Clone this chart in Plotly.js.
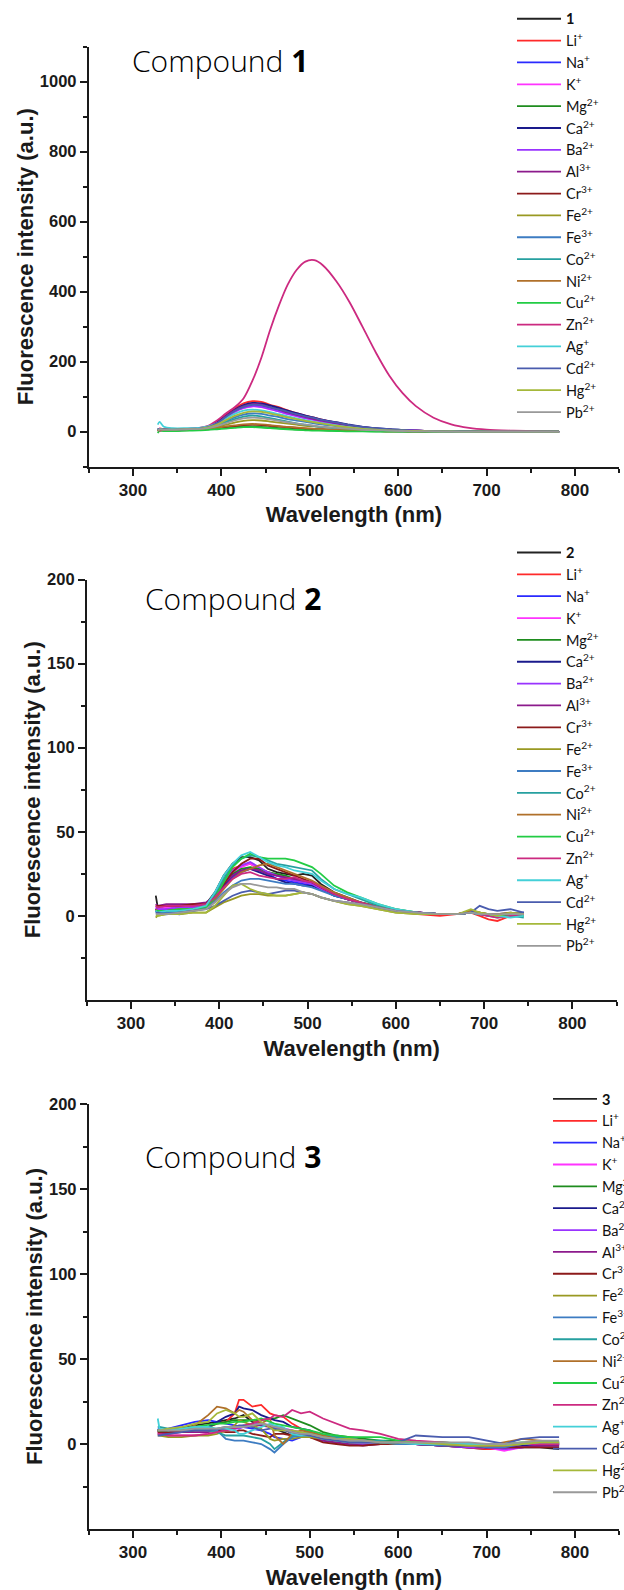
<!DOCTYPE html>
<html><head><meta charset="utf-8">
<script src="https://cdn.plot.ly/plotly-3.0.1.min.js"></script>
<style>html,body{margin:0;padding:0;background:#fff}#chart{width:624px;height:1590px}</style>
</head><body><div id="chart"></div>
<script>
// ---- labels & colours ----
const ionLabels = ['Li<sup>+</sup>','Na<sup>+</sup>','K<sup>+</sup>','Mg<sup>2+</sup>','Ca<sup>2+</sup>','Ba<sup>2+</sup>','Al<sup>3+</sup>','Cr<sup>3+</sup>','Fe<sup>2+</sup>','Fe<sup>3+</sup>','Co<sup>2+</sup>','Ni<sup>2+</sup>','Cu<sup>2+</sup>','Zn<sup>2+</sup>','Ag<sup>+</sup>','Cd<sup>2+</sup>','Hg<sup>2+</sup>','Pb<sup>2+</sup>'];
const lineColors = ['#222222','#ff2a2a','#2a2aff','#ff33ff','#1e8c1e','#1a1a8c','#9933ff','#8c1a8c','#8c1a1a','#999922','#3d7cc2','#26a0a0','#b0702a','#22cc44','#cc2a80','#44d0d8','#4a5cae','#a5b83a','#999999'];
const compoundNames = ['1','2','3'];

// ---- Compound 1 (wavelength, nm) ----
const wl1 = [328,330,335,345,360,375,385,395,405,415,425,435,445,455,465,475,485,495,505,515,530,545,560,575,590,605,620,640,660,680,700,730,760,782];
const c1_free = [6,8,7,7,8,9,14,26,45,62,74,80,78,71,64,56,49,42,37,31,24,18,12,8,6,4,3,2,1,1,0,0,0,0];
const c1_Li = [4,9,7,7,8,10,15,28,48,67,81,87,85,77,70,61,53,46,40,34,26,19,13,9,6,4,3,2,1,1,0,0,0,0];
const c1_Na = [5,8,7,7,8,9,13,24,42,59,71,76,74,68,61,53,46,40,35,30,23,17,11,8,5,4,3,2,1,1,0,0,0,0];
const c1_K = [3,9,6,6,7,9,13,23,40,56,67,72,70,64,58,50,44,38,33,28,22,16,11,7,5,4,3,1,1,0,0,0,0,0];
const c1_Mg = [1,4,3,3,4,5,7,9,11,13,15,15,14,12,10,9,7,6,5,4,3,2,2,1,1,1,0,0,0,0,0,0,0,0];
const c1_Ca = [6,8,7,7,8,10,14,26,45,63,76,82,81,75,68,60,53,46,40,34,27,20,14,10,7,5,3,2,1,1,0,0,0,0];
const c1_Ba = [5,7,7,7,7,9,13,23,40,57,68,73,71,65,58,51,45,39,34,28,22,16,11,7,5,4,3,1,1,0,0,0,0,0];
const c1_Al = [4,8,7,7,8,9,14,25,44,61,73,79,77,70,63,55,48,42,36,31,24,17,12,8,6,4,3,2,1,1,0,0,0,0];
const c1_Cr = [2,5,4,4,5,6,8,10,13,16,19,20,19,17,15,13,11,9,8,7,5,4,3,2,1,1,1,0,0,0,0,0,0,0];
const c1_Fe2 = [3,6,5,5,6,7,9,14,20,26,31,33,32,29,26,23,20,17,15,13,10,7,5,4,3,2,1,1,0,0,0,0,0,0];
const c1_Fe3 = [4,7,6,6,7,8,11,18,30,41,49,52,51,46,42,36,32,28,24,20,16,11,8,5,4,3,2,1,1,0,0,0,0,0];
const c1_Co = [4,7,6,6,7,8,11,17,27,36,43,46,44,39,34,29,24,20,16,13,9,6,4,3,2,1,1,0,0,0,0,0,0,0];
const c1_Ni = [2,5,4,4,5,6,8,11,15,18,21,22,21,19,16,14,12,10,8,7,5,4,3,2,1,1,0,0,0,0,0,0,0,0];
const c1_Cu = [-4,2,2,2,3,4,5,7,9,11,13,13,12,10,8,7,5,4,3,3,2,1,1,0,0,0,0,0,0,0,0,0,0,0];
const c1_Zn = [5,3,6,7,8,11,17,32,52,70,95,145,210,290,360,420,462,486,490,475,430,370,298,225,160,110,73,40,21,11,6,3,1,0];
const c1_Ag = [20,28,14,10,10,11,15,24,38,51,60,63,61,56,50,44,38,33,28,24,18,13,9,6,4,3,2,1,1,0,0,0,0,0];
const c1_Cd = [5,7,6,6,7,9,13,24,42,59,71,77,76,70,64,57,50,44,39,33,26,19,14,10,7,5,3,2,1,1,0,0,0,0];
const c1_Hg = [3,6,6,6,7,8,12,20,33,45,54,58,57,52,47,41,36,31,27,23,17,12,8,6,4,3,2,1,1,0,0,0,0,0];
const c1_Pb = [4,7,6,6,7,8,10,16,24,32,38,40,39,35,31,27,23,20,17,14,11,8,5,4,3,2,1,1,0,0,0,0,0,0];

// ---- Compound 2 ----
const wl2 = [328,330,340,355,370,385,395,405,415,425,435,445,455,465,475,485,495,505,515,530,545,560,580,600,625,650,670,685,695,705,715,730,745];
const c2_free = [12,6,5,6,5,7,14,24,31,35,35,33,28,26,25,24,25,24,19,14,11,8,5,3,2,1,1,2,1,1,0,1,1];
const c2_Li = [4,3,4,3,4,6,12,21,28,30,31,28,26,24,23,21,20,19,17,13,10,8,5,3,1,0,1,2,0,-2,-3,0,1];
const c2_Na = [3,2,2,1,3,5,10,17,23,26,28,27,25,22,21,20,19,18,16,12,10,8,5,3,2,1,1,2,1,1,0,1,2];
const c2_K = [5,4,5,6,5,6,11,19,26,29,31,28,26,24,23,22,21,20,17,13,10,8,5,3,2,1,1,2,1,0,0,1,1];
const c2_Mg = [4,3,3,4,4,6,11,19,25,28,29,28,26,25,24,22,21,20,17,13,10,8,6,3,2,1,1,3,2,1,1,1,0];
const c2_Ca = [4,3,3,4,4,6,11,18,24,27,28,26,24,22,20,19,18,18,16,12,10,8,5,3,2,1,1,2,1,1,0,1,2];
const c2_Ba = [5,4,4,5,5,6,12,20,27,30,32,29,26,24,22,21,20,19,16,13,10,8,5,3,2,1,1,2,1,0,0,1,1];
const c2_Al = [7,6,7,7,7,8,12,19,24,27,28,27,25,24,23,22,21,20,17,13,10,8,5,3,2,1,1,2,1,1,0,1,1];
const c2_Cr = [6,6,6,6,7,7,12,19,26,31,34,34,30,28,26,24,22,20,17,13,10,8,5,3,2,1,1,2,1,1,0,1,1];
const c2_Fe2 = [-1,0,1,1,2,2,5,8,10,12,13,13,12,12,12,13,14,13,11,9,7,6,4,2,1,1,1,3,2,1,0,1,0];
const c2_Fe3 = [2,2,2,3,3,5,9,14,18,21,22,22,21,20,19,19,18,17,15,12,10,8,5,3,2,1,1,2,1,1,1,2,1];
const c2_Co = [3,2,3,3,4,6,13,22,30,34,36,35,33,31,30,29,28,27,22,16,13,10,6,4,2,1,1,2,1,0,-1,0,-1];
const c2_Ni = [4,3,3,4,4,6,10,16,22,26,28,30,31,29,27,25,23,21,18,14,11,8,5,3,2,1,1,3,2,1,1,2,1];
const c2_Cu = [3,3,3,4,4,5,11,20,29,34,37,35,34,34,34,33,31,29,25,18,14,11,7,4,2,1,1,2,1,1,0,0,0];
const c2_Zn = [6,5,6,6,6,7,11,17,22,25,26,24,23,22,22,23,21,20,17,13,10,8,5,3,2,1,1,2,1,0,-1,0,1];
const c2_Ag = [3,2,3,3,4,6,14,24,31,36,38,35,32,30,29,27,26,25,21,16,13,11,7,4,2,1,1,2,1,1,0,-1,0];
const c2_Cd = [2,2,1,2,3,4,6,9,12,14,15,14,13,14,15,15,14,13,11,9,8,7,5,3,2,1,1,2,6,4,3,4,2];
const c2_Hg = [0,0,1,1,2,2,6,12,18,19,16,14,13,12,12,13,14,13,11,9,7,6,4,2,1,1,1,4,2,1,0,2,1];
const c2_Pb = [1,1,1,2,3,4,8,13,17,19,19,18,17,17,16,16,14,13,11,9,8,7,5,3,2,1,1,2,1,1,1,1,1];

// ---- Compound 3 ----
const wl3 = [328,330,340,355,370,385,395,405,415,420,425,435,445,455,460,470,480,490,500,515,530,545,560,580,600,620,650,680,700,720,740,760,782];
const c3_free = [8,7,8,9,11,12,13,14,15,16,17,13,12,10,9,7,5,6,6,3,2,1,1,0,0,0,-1,-2,-3,-3,-2,-2,-3];
const c3_Li = [7,7,6,8,9,10,12,13,18,26,26,22,23,18,17,16,12,9,6,4,3,1,0,0,0,0,-1,-2,-3,-3,-1,0,0];
const c3_Na = [9,8,9,11,13,14,13,12,11,10,10,9,8,6,4,3,2,4,5,2,1,0,0,0,0,0,-1,-1,-2,-2,-1,0,0];
const c3_K = [6,6,5,5,5,6,7,8,9,10,10,11,12,11,10,9,8,6,5,3,2,1,1,0,0,0,-1,-2,-2,-4,-2,-1,0];
const c3_Mg = [8,8,8,9,10,10,12,13,14,14,14,14,14,15,15,17,15,13,11,7,5,4,3,2,2,1,1,0,-1,-1,0,0,0];
const c3_Ca = [8,8,8,9,10,10,13,16,18,22,21,20,17,15,14,13,10,9,8,4,2,1,1,0,0,0,-1,-2,-2,-2,-1,-1,-1];
const c3_Ba = [7,7,7,8,8,8,8,9,9,9,10,11,12,11,10,9,8,7,6,3,1,0,0,0,0,0,-1,-2,-2,-3,-2,-1,-1];
const c3_Al = [6,6,6,7,7,7,8,9,10,10,10,11,11,10,10,9,6,5,4,2,1,0,-1,0,0,0,-1,-1,-2,-2,-2,-1,-1];
const c3_Cr = [7,7,7,7,8,8,8,7,7,8,8,6,5,4,6,6,5,5,4,1,0,-1,-1,0,0,0,-1,-1,-2,-2,-2,-2,-2];
const c3_Fe2 = [5,5,4,4,5,5,6,8,11,14,13,11,9,3,2,3,3,4,4,3,2,1,1,1,0,0,0,-1,-1,-1,0,0,1];
const c3_Fe3 = [8,8,8,8,8,8,8,3,2,2,2,1,0,-3,-5,0,4,5,6,5,4,3,2,1,0,0,-1,-1,-2,-2,0,1,1];
const c3_Co = [10,10,9,9,9,8,7,5,5,5,5,4,3,0,-3,1,5,6,7,5,4,3,2,2,1,1,0,0,0,-1,0,0,0];
const c3_Ni = [8,8,8,8,11,17,22,21,18,20,19,14,12,15,5,0,6,8,7,5,3,2,2,1,1,1,0,-1,-1,1,3,2,1];
const c3_Cu = [8,8,8,9,10,11,12,12,13,13,13,14,15,13,12,11,10,9,8,6,5,4,4,4,2,1,1,0,0,0,1,1,1];
const c3_Zn = [6,6,5,5,5,6,7,8,9,10,11,12,14,15,17,16,20,18,19,15,12,9,8,6,3,2,1,0,-1,-1,0,0,0];
const c3_Ag = [15,9,8,9,10,10,9,9,8,6,6,8,10,12,11,10,6,5,5,3,2,1,1,1,1,0,0,0,0,0,0,1,1];
const c3_Cd = [5,5,6,7,8,8,9,10,10,11,11,10,8,9,9,8,7,6,5,3,2,1,1,1,1,5,4,4,2,0,3,4,4];
const c3_Hg = [8,8,9,10,12,13,18,20,18,16,16,18,13,10,8,8,8,7,6,4,3,3,2,1,1,1,0,-1,-1,-1,0,1,1];
const c3_Pb = [8,8,8,8,9,9,9,10,10,10,10,11,12,11,10,9,7,6,6,4,3,2,2,1,1,1,1,1,0,0,1,2,2];

const series1 = [c1_free,c1_Li,c1_Na,c1_K,c1_Mg,c1_Ca,c1_Ba,c1_Al,c1_Cr,c1_Fe2,c1_Fe3,c1_Co,c1_Ni,c1_Cu,c1_Zn,c1_Ag,c1_Cd,c1_Hg,c1_Pb];
const series2 = [c2_free,c2_Li,c2_Na,c2_K,c2_Mg,c2_Ca,c2_Ba,c2_Al,c2_Cr,c2_Fe2,c2_Fe3,c2_Co,c2_Ni,c2_Cu,c2_Zn,c2_Ag,c2_Cd,c2_Hg,c2_Pb];
const series3 = [c3_free,c3_Li,c3_Na,c3_K,c3_Mg,c3_Ca,c3_Ba,c3_Al,c3_Cr,c3_Fe2,c3_Fe3,c3_Co,c3_Ni,c3_Cu,c3_Zn,c3_Ag,c3_Cd,c3_Hg,c3_Pb];

const W = 624, H = 1590;
const panels = [
  {wl: wl1, ser: series1, shape: 'spline', xdom:[88.8,619.2], ydom:[46.7,466.7], yr:[-100,1100], ytv:[0,200,400,600,800,1000], ymin:[-100,100,300,500,700,900,1100], leg:[512,2.8], ann:[130,61]},
  {wl: wl2, ser: series2, shape: 'linear', xdom:[86.9,616.5], ydom:[579.5,1000], yr:[-50,200], ytv:[0,50,100,150,200], ymin:[-25,25,75,125,175], leg:[512,536.6], ann:[143,598]},
  {wl: wl3, ser: series3, shape: 'linear', xdom:[88.8,619.2], ydom:[1104,1529], yr:[-50,200], ytv:[0,50,100,150,200], ymin:[-25,25,75,125,175], leg:[548,1083], ann:[143,1156]}
];

const AX = '#1a1a1a';
const traces = [];
const layout = {
  width: W, height: H,
  margin: {l:0, r:0, t:0, b:0, autoexpand:false},
  paper_bgcolor: '#ffffff', plot_bgcolor: 'rgba(0,0,0,0)',
  showlegend: true, annotations: []
};

panels.forEach((p, i) => {
  const n = i + 1;
  const sfx = n === 1 ? '' : String(n);
  const labels = ['<b>' + compoundNames[i] + '</b>'].concat(ionLabels);
  p.ser.forEach((ys, j) => {
    traces.push({
      type: 'scatter', mode: 'lines', x: p.wl, y: ys,
      xaxis: 'x' + sfx, yaxis: 'y' + sfx,
      name: labels[j], legend: 'legend' + sfx,
      line: {color: lineColors[j], width: 1.8, shape: p.shape, smoothing: 0.8}
    });
  });
  layout['xaxis' + sfx] = {
    domain: [p.xdom[0] / W, p.xdom[1] / W], anchor: 'y' + sfx,
    range: [250, 850], tick0: 0, dtick: 100,
    ticks: 'outside', ticklen: 7, tickwidth: 2, tickcolor: AX,
    showline: true, linewidth: 2, linecolor: AX, showgrid: false, zeroline: false,
    tickfont: {family: 'Arial, Liberation Sans', size: 17, color: '#1a1a1a', weight: 'bold'},
    minor: {dtick: 50, tick0: 0, ticks: 'outside', ticklen: 4, tickwidth: 2, tickcolor: AX, showgrid: false},
    title: {text: 'Wavelength (nm)', standoff: 8, font: {family: 'Arial, Liberation Sans', size: 22, color: '#1a1a1a', weight: 'bold'}}
  };
  layout['yaxis' + sfx] = {
    domain: [1 - p.ydom[1] / H, 1 - p.ydom[0] / H], anchor: 'x' + sfx,
    range: p.yr, tickmode: 'array', tickvals: p.ytv,
    ticks: 'outside', ticklen: 7, tickwidth: 2, tickcolor: AX,
    showline: true, linewidth: 2, linecolor: AX, showgrid: false, zeroline: false,
    tickfont: {family: 'Arial, Liberation Sans', size: 16.5, color: '#1a1a1a', weight: 'bold'},
    minor: {tickmode: 'array', tickvals: p.ymin, ticks: 'outside', ticklen: 4, tickwidth: 2, tickcolor: AX, showgrid: false},
    title: {text: 'Fluorescence intensity (a.u.)', standoff: 0, font: {family: 'Arial, Liberation Sans', size: 22, color: '#1a1a1a', weight: 'bold'}}
  };
  layout['legend' + sfx] = {
    x: p.leg[0] / W, xanchor: 'left', xref: 'paper',
    y: 1 - p.leg[1] / H, yanchor: 'top', yref: 'paper',
    bgcolor: 'rgba(0,0,0,0)', borderwidth: 0,
    itemwidth: 44, tracegroupgap: 0,
    font: {family: 'Lato, Open Sans', size: 14.5, color: '#111111'}
  };
  layout.annotations.push({
    xref: 'paper', yref: 'paper', x: p.ann[0] / W, y: 1 - p.ann[1] / H,
    xanchor: 'left', yanchor: 'middle', showarrow: false,
    text: 'Compound <b>' + compoundNames[i] + '</b>',
    font: {family: 'Open Sans', size: 30, color: '#000000', weight: 300}
  });
});

Plotly.newPlot('chart', traces, layout, {displayModeBar: false, staticPlot: true});
</script>
</body></html>
